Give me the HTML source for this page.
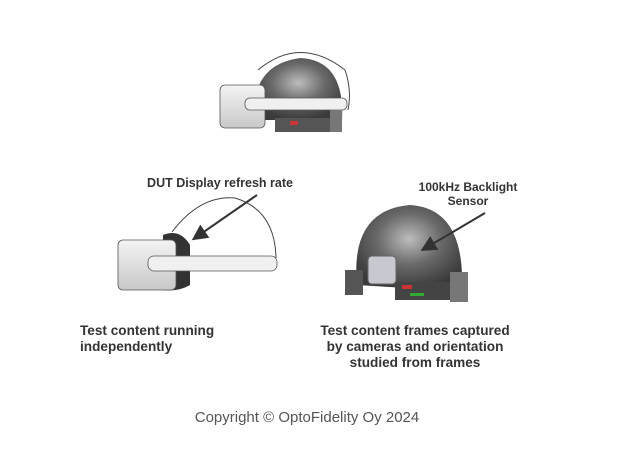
<!DOCTYPE html>
<html><head><style>
body{margin:0;width:632px;height:459px;background:#fff;overflow:hidden;font-family:"Liberation Sans",sans-serif}
</style></head><body>
<svg width="632" height="459" viewBox="0 0 632 459" xmlns="http://www.w3.org/2000/svg">
<defs>
<radialGradient id="dome" cx="0.5" cy="0.4" r="0.6"><stop offset="0" stop-color="#bdbdbd"/><stop offset="0.5" stop-color="#6a6a6a"/><stop offset="1" stop-color="#3a3a3a"/></radialGradient>
<linearGradient id="visor" x1="0" y1="0" x2="0" y2="1"><stop offset="0" stop-color="#f4f4f4"/><stop offset="1" stop-color="#c8c8c8"/></linearGradient>
<marker id="ah" markerWidth="8" markerHeight="8" refX="6" refY="4" orient="auto"><path d="M0,0 L8,4 L0,8 z" fill="#333"/></marker>
</defs>
<path d="M258,70 Q300,35 345,70 Q352,90 348,110" fill="none" stroke="#444" stroke-width="1"/>
<path d="M255,120 Q250,65 300,58 Q345,60 342,120 z" fill="url(#dome)"/>
<rect x="220" y="85" width="45" height="43" rx="5" fill="url(#visor)" stroke="#555" stroke-width="0.8"/>
<rect x="245" y="98" width="102" height="12" rx="5" fill="#f0f0f0" stroke="#555" stroke-width="0.8"/>
<rect x="275" y="118" width="65" height="14" fill="#555"/>
<rect x="290" y="121" width="8" height="4" fill="#c33"/>
<rect x="330" y="110" width="12" height="22" fill="#777"/>
<path d="M172,232 Q200,195 235,198 Q275,210 276,258" fill="none" stroke="#444" stroke-width="1"/>
<path d="M163,235 Q180,228 190,245 L190,285 Q178,292 163,290 z" fill="#333"/>
<rect x="118" y="240" width="58" height="50" rx="5" fill="url(#visor)" stroke="#555" stroke-width="0.8"/>
<rect x="148" y="256" width="129" height="15" rx="6" fill="#f0f0f0" stroke="#555" stroke-width="0.8"/>
<line x1="257" y1="195" x2="195" y2="238" stroke="#333" stroke-width="2" marker-end="url(#ah)"/>
<text x="220" y="187" text-anchor="middle" font-size="12.5" font-weight="bold" fill="#333">DUT Display refresh rate</text>
<path d="M357,285 Q350,210 410,205 Q460,208 462,275 L440,290 z" fill="url(#dome)"/>
<rect x="368" y="256" width="28" height="28" rx="4" fill="#c8c8d0" stroke="#666"/>
<rect x="345" y="270" width="18" height="25" fill="#555"/>
<rect x="395" y="282" width="60" height="18" fill="#444"/>
<rect x="402" y="285" width="10" height="4" fill="#c33"/>
<rect x="410" y="293" width="14" height="3" fill="#3a3"/>
<rect x="450" y="272" width="18" height="30" fill="#777"/>
<line x1="485" y1="213" x2="424" y2="249" stroke="#333" stroke-width="2" marker-end="url(#ah)"/>
<text x="468" y="191" text-anchor="middle" font-size="12" font-weight="bold" fill="#333">100kHz Backlight</text>
<text x="468" y="205" text-anchor="middle" font-size="12" font-weight="bold" fill="#333">Sensor</text>
<g font-size="13.6" font-weight="bold" fill="#333">
<text x="80" y="335">Test content running</text>
<text x="80" y="351">independently</text>
<text x="415" y="335" text-anchor="middle">Test content frames captured</text>
<text x="415" y="351" text-anchor="middle">by cameras and orientation</text>
<text x="415" y="367" text-anchor="middle">studied from frames</text>
</g>
<text x="307" y="422" text-anchor="middle" font-size="15" fill="#555">Copyright © OptoFidelity Oy 2024</text>
</svg>
</body></html>
